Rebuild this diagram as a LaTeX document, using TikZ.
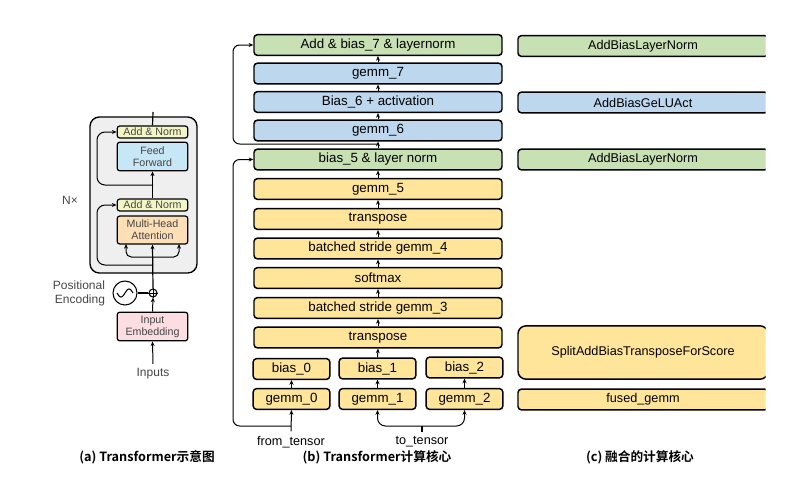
\documentclass[tikz,border=0pt]{standalone}
\usepackage{fontspec}
\setmainfont{Liberation Sans}
\newfontfamily\cjk{Noto Sans CJK SC}[BoldFont={Noto Sans CJK SC Bold}]
\usetikzlibrary{arrows.meta}

\begin{document}
\begin{tikzpicture}[x=0.75pt,y=-0.75pt,
  kernel/.style={draw=black,line width=1.1pt,rounded corners=2.5pt,inner sep=0pt,minimum width=186pt,minimum height=15.5pt,font=\fontsize{10}{12}\selectfont},
  small/.style={kernel,minimum width=57.5pt},
  fused/.style={kernel,minimum width=187.5pt,font=\fontsize{9.5}{11}\selectfont},
  block/.style={draw=black,line width=0.9pt,rounded corners=2pt,inner sep=0pt,minimum width=53pt,text=textgray,font=\fontsize{8}{9}\selectfont,align=center},
  flow/.style={-{Stealth[length=3.5pt,width=3pt]},line width=0.75pt},
  wire/.style={line width=0.9pt},
  label/.style={text=textgray,font=\fontsize{9}{10.5}\selectfont,align=right},
  caption/.style={font=\cjk\bfseries\fontsize{9.5}{11}\selectfont}]
\definecolor{greenfill}{RGB}{199,224,180}
\definecolor{bluefill}{RGB}{189,215,238}
\definecolor{yellowfill}{RGB}{255,229,153}
\definecolor{normfill}{RGB}{243,246,196}
\definecolor{ffnfill}{RGB}{199,230,246}
\definecolor{attnfill}{RGB}{252,222,183}
\definecolor{embfill}{RGB}{251,221,226}
\definecolor{boxgray}{RGB}{239,239,239}
\definecolor{textgray}{RGB}{70,70,70}
\useasboundingbox (0,0) rectangle (809,483);
\draw [line width=1pt,rounded corners=7pt,fill=boxgray] (90,117) rectangle (197,273);
\node [block,fill=normfill,minimum height=9pt] (norm2) at (152.5,132) {Add \& Norm};
\node [block,fill=ffnfill,minimum height=21.5pt] (ffn) at (152.5,156.5) {Feed\\Forward};
\node [block,fill=normfill,minimum height=9pt] (norm1) at (152.5,205) {Add \& Norm};
\node [block,fill=attnfill,minimum height=21pt] (mha) at (152.5,230) {Multi-Head\\Attention};
\node [block,fill=embfill,minimum height=21.5pt] (emb) at (152.5,326.5) {Input\\Embedding};
\node [draw,circle,line width=0.8pt,inner sep=0pt,minimum size=6pt] (plus) at (153,293) {};
\node [draw,circle,line width=0.8pt,inner sep=0pt,minimum size=18pt] (sine) at (125,293) {};
\node [label] (nx) at (70,200) {N×};
\node [label] (pos) at (79,293) {Positional\\Encoding};
\node [label] (inputs) at (153,374) {Inputs};
\coordinate (top) at (153,112);
\coordinate (split) at (153,257);
\coordinate (q) at (126,244);
\coordinate (v) at (179,244);
\coordinate (res1) at (153,265);
\coordinate (lx1) at (97,265);
\coordinate (res2) at (153,185);
\coordinate (lx2) at (97,185);
\draw (plus.north) -- (plus.south) (plus.west) -- (plus.east);
\draw [line width=0.8pt,shift={(sine.center)},domain=-1:1,samples=30] plot (\x*8,{-4*sin(\x*180)});
\draw [wire] (sine.east) -- (plus.west);
\draw [flow] (inputs.north) -- (emb.south);
\draw [flow] (emb.north) -- (plus.south);
\draw [flow,line width=0.9pt] (plus.north) -- (mha.south);
\draw [flow,rounded corners=4pt] (split) -| (q);
\draw [flow,rounded corners=4pt] (split) -| (v);
\draw [flow,rounded corners=6pt] (res1) -- (lx1) |- (norm1.west);
\draw [flow,line width=0.9pt] (norm1.north) -- (ffn.south);
\draw [flow,rounded corners=6pt] (res2) -- (lx2) |- (norm2.west);
\draw [wire] (norm2.north) -- (top);
\node [kernel,fill=greenfill] (add7) at (378,45) {Add \& bias\_7 \& layernorm};
\node [kernel,fill=bluefill] (gemm7) at (378,73.5) {gemm\_7};
\node [kernel,fill=bluefill] (bias6) at (378,102) {Bias\_6 + activation};
\node [kernel,fill=bluefill] (gemm6) at (378,130.5) {gemm\_6};
\node [kernel,fill=greenfill] (bias5) at (378,159.5) {bias\_5 \& layer norm};
\node [kernel,fill=yellowfill] (gemm5) at (378,189) {gemm\_5};
\node [kernel,fill=yellowfill] (trans2) at (378,219) {transpose};
\node [kernel,fill=yellowfill] (bsg4) at (378,248.5) {batched stride gemm\_4};
\node [kernel,fill=yellowfill] (softmax) at (378,278) {softmax};
\node [kernel,fill=yellowfill] (bsg3) at (378,308) {batched stride gemm\_3};
\node [kernel,fill=yellowfill] (trans1) at (378,337.5) {transpose};
\node [small,fill=yellowfill] (bias0) at (291.5,369) {bias\_0};
\node [small,fill=yellowfill] (bias1) at (377.5,368.5) {bias\_1};
\node [small,fill=yellowfill] (bias2) at (464.5,367.5) {bias\_2};
\node [small,fill=yellowfill] (gemm0) at (291.5,399) {gemm\_0};
\node [small,fill=yellowfill] (gemm1) at (377.5,399) {gemm\_1};
\node [small,fill=yellowfill] (gemm2) at (464.5,399) {gemm\_2};
\node [font=\fontsize{9.5}{11}\selectfont] (fromtensor) at (291,442) {from\_tensor};
\node [font=\fontsize{9.5}{11}\selectfont] (totensor) at (422,442) {to\_tensor};
\foreach \a/\b in {gemm7/add7,bias6/gemm7,gemm6/bias6,bias5/gemm6,gemm5/bias5,trans2/gemm5,bsg4/trans2,softmax/bsg4,bsg3/softmax,trans1/bsg3,bias1/trans1,gemm0/bias0,gemm1/bias1,gemm2/bias2}
  \draw [flow] (\a.north) -- (\b.south);
\coordinate (skip1) at (378,144);
\coordinate (lx3) at (233,144);
\coordinate (skip0) at (291,426);
\coordinate (lx4) at (233,426);
\coordinate (fork) at (422,426);
\draw [flow,rounded corners=5pt] (skip1) -- (lx3) |- (add7.west);
\draw [flow] (fromtensor.north) -- (gemm0.south);
\draw [flow,rounded corners=5pt] (skip0) -- (lx4) |- (bias5.west);
\draw [wire] (totensor.north) -- (fork);
\draw [flow,rounded corners=6pt] (fork) -| (gemm1.south);
\draw [flow,rounded corners=6pt] (fork) -| (gemm2.south);
\begin{scope}
\clip (505,0) rectangle (765.5,483);
\node [fused,fill=greenfill] (fused7) at (643,46) {AddBiasLayerNorm};
\node [fused,fill=bluefill] (fused6) at (643,102.5) {AddBiasGeLUAct};
\node [fused,fill=greenfill] (fused5) at (643,159.5) {AddBiasLayerNorm};
\node [fused,fill=yellowfill,minimum height=40pt,rounded corners=6pt] (fusedqkv) at (643,352.5) {SplitAddBiasTransposeForScore};
\node [fused,fill=yellowfill] (fusedgemm) at (643,399.5) {fused\_gemm};
\end{scope}
\node [caption] (capa) at (147,457) {(a) Transformer示意图};
\node [caption] (capb) at (377,457) {(b) Transformer计算核心};
\node [caption] (capc) at (640,457) {(c) 融合的计算核心};
\end{tikzpicture}
\end{document}
